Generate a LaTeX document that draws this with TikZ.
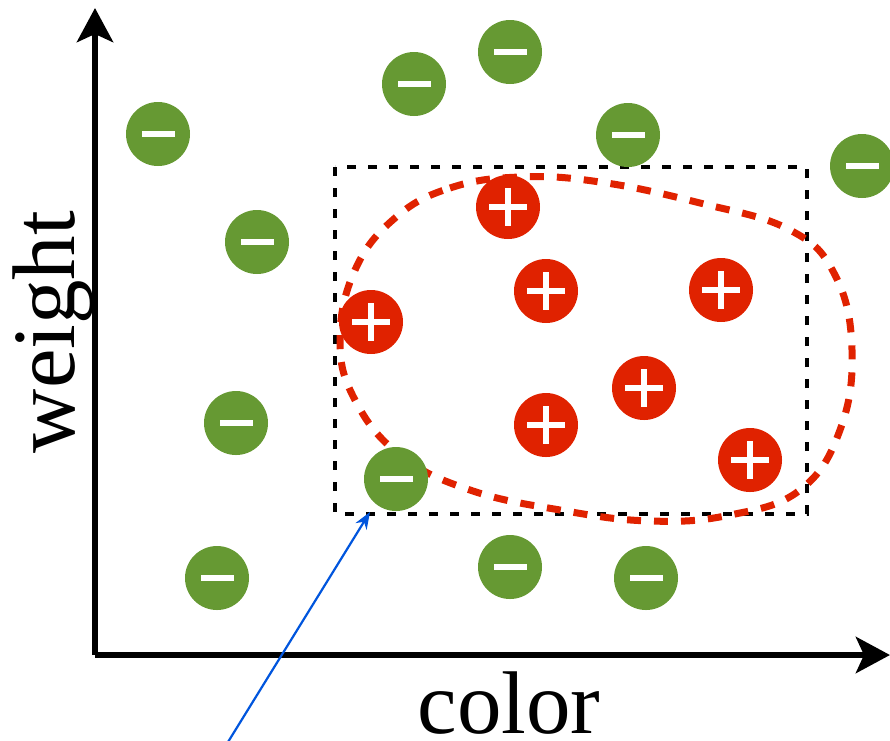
\documentclass[tikz,border=0pt]{standalone}
\usepackage{fontspec}
\setmainfont{Liberation Serif}
\usetikzlibrary{arrows.meta}
\definecolor{ngreen}{HTML}{669933}
\definecolor{pred}{HTML}{E02200}
\definecolor{ablue}{HTML}{0055DD}
\tikzset{
  negdot/.style={circle, fill=ngreen, minimum size=64pt, inner sep=0pt,
    path picture={\fill[white] ([xshift=-16.5pt,yshift=-3pt]path picture bounding box.center) rectangle ([xshift=16.5pt,yshift=3pt]path picture bounding box.center);}},
  posdot/.style={circle, fill=pred, minimum size=64pt, inner sep=0pt,
    path picture={\fill[white] ([xshift=-19pt,yshift=-3pt]path picture bounding box.center) rectangle ([xshift=19pt,yshift=3pt]path picture bounding box.center);
      \fill[white] ([xshift=-3pt,yshift=-19pt]path picture bounding box.center) rectangle ([xshift=3pt,yshift=19pt]path picture bounding box.center);}},
  axisline/.style={line width=6.5pt, -{Stealth[length=34pt,width=36pt,inset=8pt]}},
  bigtext/.style={font=\fontsize{89}{100}\selectfont, inner sep=0pt}
}
\begin{document}
\begin{tikzpicture}[x=1pt,y=-1pt]
\useasboundingbox (0,0) rectangle (890,740);
% axes
\coordinate (O) at (95,655);
\coordinate (Ytop) at (95,8);
\coordinate (Xend) at (890,655);
\draw[axisline] (O) -- (Ytop);
\draw[axisline] (O) -- (Xend);
\node[bigtext, anchor=base] (xl) at (509,733) {color};
\node[bigtext, anchor=base, rotate=90] (yl) at (74,332) {weight};
% dashed box
\draw[black, line width=4.5pt, dash pattern=on 9pt off 12pt] (335,167) rectangle (807,514);
% red region
\draw[pred, line width=7pt, dash pattern=on 14pt off 13pt] plot[smooth cycle, tension=0.7] coordinates {
 (395,218) (450,188) (520,177) (600,182) (700,203) (790,230) (835,275) (852,350) (840,430) (800,490) (730,515) (650,521) (560,510) (470,490) (400,455) (355,400) (340,340) (355,270)};
% negatives
\node[negdot] (n1) at (158,134) {};
\node[negdot] (n2) at (414,84) {};
\node[negdot] (n3) at (510,52) {};
\node[negdot] (n4) at (628,135) {};
\node[negdot] (n5) at (862,166) {};
\node[negdot] (n6) at (257,242) {};
\node[negdot] (n7) at (236,423) {};
\node[negdot] (n8) at (396,479) {};
\node[negdot] (n9) at (217,578) {};
\node[negdot] (n10) at (510,567) {};
\node[negdot] (n11) at (646,578) {};
% positives
\node[posdot] (p1) at (508,207) {};
\node[posdot] (p2) at (546,291) {};
\node[posdot] (p3) at (721,290) {};
\node[posdot] (p4) at (371,322) {};
\node[posdot] (p5) at (644,388) {};
\node[posdot] (p6) at (546,425) {};
\node[posdot] (p7) at (750,460) {};
% pointer
\coordinate (ptail) at (228,742);
\coordinate (phead) at (370,512);
\draw[ablue, line width=2.2pt, -{Stealth[length=17pt,width=13pt]}] (ptail) -- (phead);
\end{tikzpicture}
\end{document}
